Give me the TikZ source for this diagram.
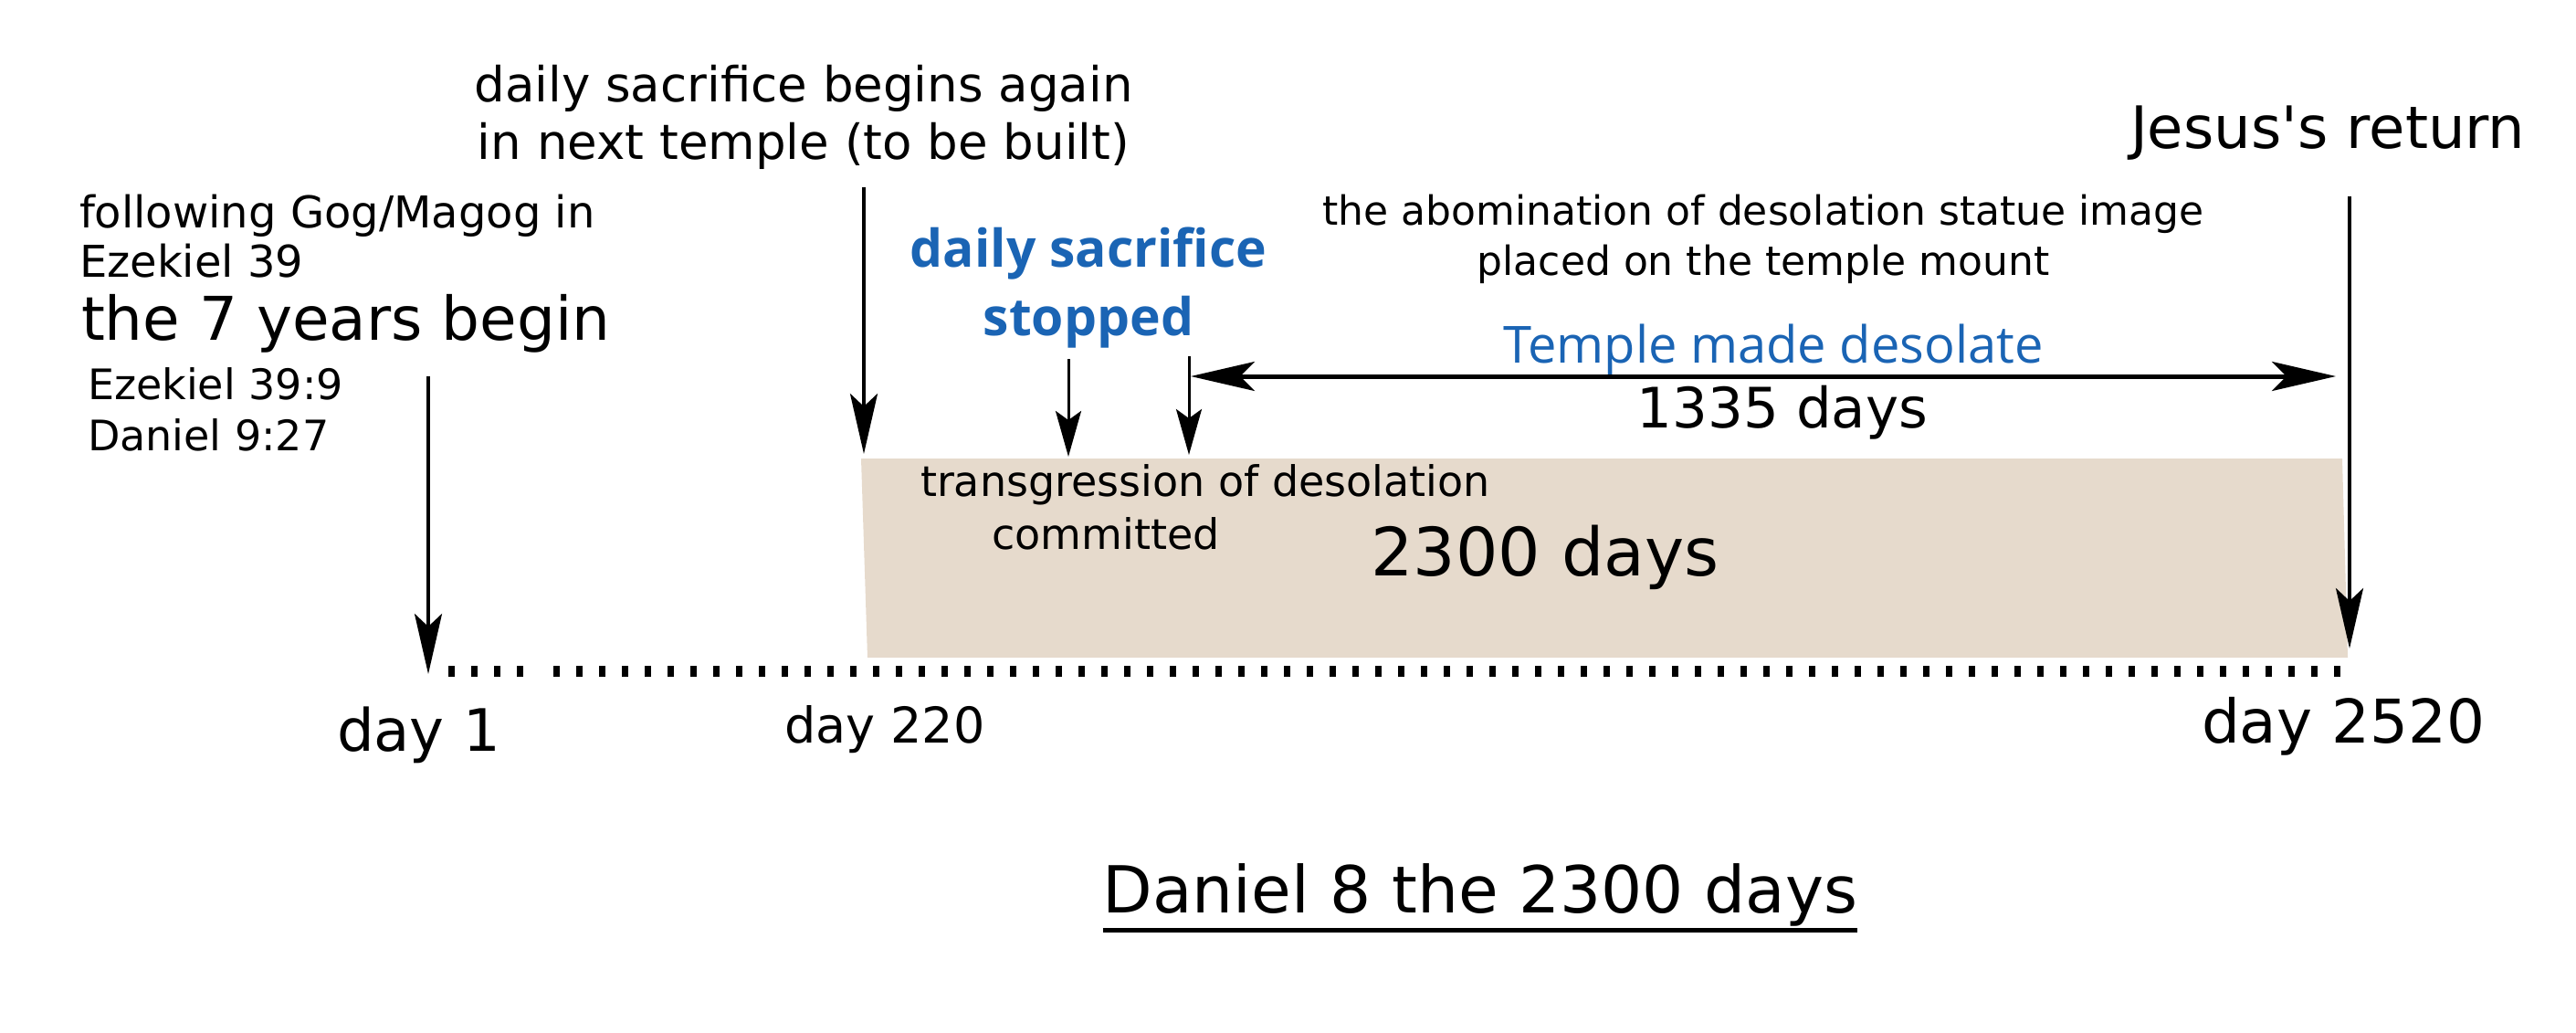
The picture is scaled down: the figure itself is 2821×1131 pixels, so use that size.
\documentclass[tikz,border=0pt]{standalone}
\usepackage{fontspec}
\setmainfont{DejaVu Sans}
\newfontfamily\bluefont{Open Sans}
\usepackage{xcolor}
\usepackage{tikz}
\usetikzlibrary{arrows.meta,positioning,calc}
\definecolor{dnink}{RGB}{0,0,0}
\definecolor{dnblue}{RGB}{26,100,180}
\definecolor{dnspan}{RGB}{230,218,204}
\newcommand{\fsz}[2]{\fontsize{#1}{#2}\selectfont}
\tikzset{
  lbl/.style={inner sep=0pt, outer sep=0pt, anchor=base west, align=left, text=dnink},
  mid/.style={lbl, anchor=base, align=center},
  blu/.style={mid, text=dnblue},
  arr/.style={-{Stealth[length=66pt,width=30pt,inset=14pt]}, draw=dnink, line width=4pt},
  sarr/.style={-{Stealth[length=50pt,width=28pt,inset=10pt]}, draw=dnink, line width=3pt},
  darr/.style={{Stealth[length=70pt,width=32pt,inset=16pt]}-{Stealth[length=70pt,width=32pt,inset=16pt]}, draw=dnink, line width=5pt},
  tick/.style={draw=dnink, line width=12pt, dash pattern=on 7pt off 18pt},
  span/.style={fill=dnspan, draw=none}
}
\begin{document}
\begin{tikzpicture}[x=1pt, y=-1pt]
  \useasboundingbox (0,0) rectangle (2821,1131);
  % 2300 day band and the timeline
  \fill[span] (943,502) -- (2565,502) -- (2571,720) -- (950,720) -- cycle;
  \draw[tick] (491,735) -- (580,735);
  \draw[tick] (606,735) -- (2573,735);

  % left block (multi-line nodes sit on their last baseline)
  \node[lbl, font=\fsz{48}{54}] (gog) at (87,304) {following Gog/Magog in\\Ezekiel 39};
  \node[lbl, font=\fsz{66}{78}] (seven) at (89,373) {the 7 years begin};
  \node[lbl, font=\fsz{46}{56}] (refs) at (96,493) {Ezekiel 39:9\\Daniel 9:27};

  % top labels
  \node[mid, font=\fsz{53}{63}] (again) at (880,175) {daily sacrifice begins again\\in next temple (to be built)};
  \node[blu, font=\bluefont\bfseries\fsz{57}{75}] (stop) at (1192,368) {daily sacrifice\\stopped};
  \node[mid, font=\fsz{44}{55}] (abom) at (1931,302) {the abomination of desolation statue image\\placed on the temple mount};
  \node[lbl, font=\fsz{64}{76}] (jesus) at (2333,163) {Jesus\textquotesingle s return};
  \node[blu, font=\bluefont\fsz{56}{66}] (desol) at (1942,397) {Temple made desolate};
  \node[mid, font=\fsz{61}{72}] (d1335) at (1952,468) {1335 days};

  % inside the band
  \node[mid, font=\fsz{46}{56}] (trans) at (1320,543) {transgression of desolation};
  \node[mid, font=\fsz{46}{56}] (commit) at (1211,601) {committed};
  \node[mid, font=\fsz{73}{86}] (d2300) at (1692,630) {2300 days};

  % day marks
  \node[lbl, font=\fsz{64}{76}] (day1) at (369,822) {day 1};
  \node[lbl, font=\fsz{54}{64}] (day220) at (859,813) {day 220};
  \node[lbl, font=\fsz{66}{78}] (day2520) at (2411,813) {day 2520};

  % title
  \node[mid, font=\fsz{71}{84}] (title) at (1621,999) {Daniel 8 the 2300 days};
  \draw[line width=5pt] ([yshift=-19pt]title.base west) -- ([yshift=-19pt]title.base east);

  % arrows
  \coordinate (a1) at (469,412);   \coordinate (b1) at (469,738);
  \coordinate (a220) at (946,205); \coordinate (b220) at (946,497);
  \coordinate (astop) at (1170,393); \coordinate (bstop) at (1170,500);
  \coordinate (atr) at (1302,390); \coordinate (btr) at (1302,498);
  \coordinate (aj) at (2573,215);  \coordinate (bj) at (2573,710);
  \coordinate (dl) at (1304,412);  \coordinate (dr) at (2558,412);
  \draw[arr] (a1) -- (b1);
  \draw[arr] (a220) -- (b220);
  \draw[sarr] (astop) -- (bstop);
  \draw[sarr] (atr) -- (btr);
  \draw[arr] (aj) -- (bj);
  \draw[darr] (dl) -- (dr);
\end{tikzpicture}
\end{document}
